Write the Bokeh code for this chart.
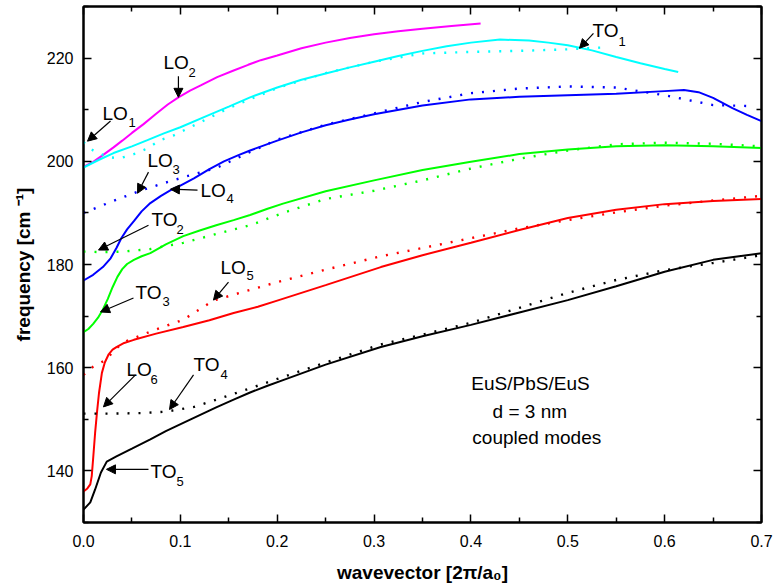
from bokeh.plotting import figure
from bokeh.models import (Range1d, LinearAxis, FixedTicker, Arrow, NormalHead,
                          Label, NumeralTickFormatter)
from bokeh.embed import file_html
from bokeh.resources import INLINE

# ---------------- data ----------------
x_ticks = [0.0, 0.1, 0.2, 0.3, 0.4, 0.5, 0.6, 0.7]
x_minor = [0.05, 0.15, 0.25, 0.35, 0.45, 0.55, 0.65]
y_ticks = [140, 160, 180, 200, 220]
y_minor = [130, 150, 170, 190, 210, 230]

# LO2 (magenta, solid)
lo2_x = [0, 0.01, 0.02, 0.031, 0.04, 0.05, 0.062, 0.075, 0.087, 0.098, 0.11, 0.121, 0.138, 0.155, 0.17,
         0.183, 0.2, 0.225, 0.25, 0.275, 0.3, 0.325, 0.35, 0.38, 0.41]
lo2_y = [198.9, 199.9, 201.2, 202.7, 204.0, 205.5, 207.2, 209.2, 211.0, 212.4, 213.7, 214.7, 216.3, 217.6, 218.7,
         219.6, 220.5, 221.9, 223.0, 223.9, 224.6, 225.2, 225.7, 226.2, 226.7]

# TO1 (cyan, solid)
to1s_x = [0, 0.015, 0.031, 0.05, 0.066, 0.083, 0.1, 0.125, 0.15, 0.172, 0.2, 0.225, 0.25, 0.275, 0.3,
          0.325, 0.35, 0.375, 0.4, 0.43, 0.46, 0.48, 0.5, 0.525, 0.55, 0.575, 0.6, 0.614]
to1s_y = [198.8, 200.2, 201.6, 202.9, 204.1, 205.4, 206.6, 208.6, 210.6, 212.4, 214.3, 215.8, 217.0, 218.2, 219.3,
          220.4, 221.4, 222.3, 223.0, 223.6, 223.4, 223.0, 222.5, 221.5, 220.2, 219.0, 217.9, 217.3]
# cyan, dotted
to1d_x = [0, 0.01, 0.025, 0.038, 0.052, 0.066, 0.079, 0.093, 0.12, 0.15, 0.2, 0.25, 0.3, 0.35, 0.4, 0.45, 0.5, 0.54]
to1d_y = [203.7, 202.1, 200.8, 200.6, 201.4, 202.5, 204.1, 205.0, 207.5, 210.3, 214.2, 217.1, 219.3, 220.9, 221.2, 221.4, 221.7, 222.1]

# LO4 (blue, solid)
lo4_x = [0, 0.01, 0.02, 0.028, 0.034, 0.039, 0.045, 0.052, 0.06, 0.069, 0.08, 0.09, 0.1, 0.114, 0.13, 0.145,
         0.16, 0.172, 0.2, 0.225, 0.25, 0.275, 0.3, 0.35, 0.4, 0.45, 0.5, 0.55, 0.6, 0.62, 0.635, 0.65,
         0.67, 0.685, 0.7]
lo4_y = [176.9, 178.0, 179.5, 181.2, 183.2, 185.1, 186.8, 188.4, 190.3, 191.9, 193.3, 194.4, 195.3, 196.7, 198.5, 200.0,
         201.2, 202.1, 204.0, 205.6, 207.0, 208.1, 209.1, 210.8, 212.0, 212.5, 212.8, 213.1, 213.6, 213.8, 213.4, 212.3,
         210.3, 209.0, 207.8]
# LO3 (blue, dotted)
lo3_x = [0, 0.028, 0.057, 0.08, 0.103, 0.137, 0.172, 0.2, 0.25, 0.3, 0.35, 0.4, 0.45, 0.5, 0.55, 0.6, 0.65, 0.69]
lo3_y = [190.0, 192.1, 194.2, 195.6, 196.9, 198.7, 201.8, 204.2, 207.1, 209.3, 211.5, 213.2, 214.1, 214.5, 214.3, 212.8, 210.9, 210.7]

# TO3 (green, solid)
to3_x = [0, 0.005, 0.01, 0.015, 0.02, 0.025, 0.03, 0.035, 0.04, 0.045, 0.052, 0.06, 0.069, 0.085, 0.103,
         0.12, 0.137, 0.155, 0.172, 0.19, 0.206, 0.25, 0.3, 0.35, 0.4, 0.45, 0.5, 0.55, 0.6, 0.65, 0.7]
to3_y = [166.9, 167.5, 168.5, 169.7, 171.3, 173.3, 175.6, 177.6, 179.1, 180.1, 180.9, 181.6, 182.2, 183.9, 185.5,
         186.6, 187.6, 188.6, 189.6, 190.8, 191.8, 194.2, 196.3, 198.3, 199.9, 201.4, 202.3, 202.9, 203.1, 202.9, 202.6]
# TO2 (green, dotted)
to2_x = [0, 0.02, 0.04, 0.069, 0.103, 0.137, 0.172, 0.206, 0.25, 0.3, 0.35, 0.4, 0.45, 0.5, 0.55, 0.6, 0.65, 0.7]
to2_y = [182.5, 182.4, 182.5, 183.0, 184.2, 185.9, 187.6, 190.0, 192.7, 194.3, 196.3, 198.6, 200.5, 202.1, 203.3, 203.6, 203.4, 202.9]

# LO6 (red, solid)
lo6_x = [0, 0.004, 0.007, 0.0085, 0.01, 0.012, 0.014, 0.016, 0.019, 0.022, 0.026, 0.03, 0.034, 0.042, 0.052,
         0.075, 0.103, 0.13, 0.155, 0.18, 0.2, 0.25, 0.307, 0.35, 0.4, 0.45, 0.5, 0.55, 0.6, 0.65, 0.7]
lo6_y = [136.0, 136.6, 137.4, 139.0, 142.5, 147.4, 151.5, 155.1, 159.0, 161.0, 162.6, 163.5, 164.0, 164.8, 165.4,
         166.6, 167.9, 169.2, 170.6, 171.8, 173.0, 176.0, 179.5, 181.8, 184.2, 186.7, 189.0, 190.6, 191.7, 192.3, 192.7]
# LO5 (red, dotted)
lo5_x = [0, 0.01, 0.023, 0.034, 0.045, 0.069, 0.103, 0.134, 0.2, 0.25, 0.307, 0.35, 0.4, 0.45, 0.5, 0.55, 0.6, 0.65, 0.7]
lo5_y = [158.6, 160.2, 161.5, 163.8, 165.2, 167.0, 169.3, 173.0, 176.6, 179.0, 181.6, 183.2, 185.1, 187.0, 188.6, 190.1, 191.4, 192.4, 193.3]

# TO5 (black, solid)
to5_x = [0, 0.007, 0.012, 0.018, 0.024, 0.034, 0.05, 0.069, 0.085, 0.103, 0.12, 0.137, 0.155, 0.172, 0.19, 0.206,
         0.25, 0.307, 0.35, 0.4, 0.45, 0.5, 0.55, 0.6, 0.65, 0.7]
to5_y = [132.5, 133.9, 136.4, 139.7, 141.8, 142.8, 144.3, 146.1, 147.7, 149.3, 150.8, 152.3, 153.8, 155.2, 156.5, 157.6,
         160.6, 164.0, 166.1, 168.3, 170.7, 173.1, 175.8, 178.6, 180.9, 182.2]
# TO4 (black, dotted)
to4_x = [0, 0.03, 0.06, 0.086, 0.114, 0.137, 0.172, 0.206, 0.25, 0.307, 0.35, 0.4, 0.45, 0.5, 0.55, 0.6, 0.65, 0.7]
to4_y = [151.1, 151.1, 151.2, 151.5, 152.4, 153.8, 156.0, 158.2, 161.0, 164.5, 166.4, 168.7, 171.6, 174.5, 177.0, 178.9, 180.3, 181.8]

# mode labels: main text, subscript, text pos, subscript pos, arrow start, arrow end
label_main = ["LO", "LO", "LO", "LO", "TO", "TO", "LO", "LO", "TO", "TO", "TO"]
label_sub = ["1", "2", "3", "4", "2", "3", "5", "6", "4", "5", "1"]
label_xy = [(0.0196, 209.3), (0.0826, 219.2), (0.0661, 200.2), (0.1208, 194.4), (0.0702, 188.7),
            (0.0537, 174.5), (0.1414, 179.5), (0.0444, 159.6), (0.1136, 160.6), (0.0692, 139.8), (0.5255, 225.3)]
sub_xy = [(0.0465, 207.6), (0.1084, 217.2), (0.0919, 198.5), (0.1476, 192.7), (0.096, 186.7),
          (0.0816, 172.9), (0.1683, 177.8), (0.0692, 157.7), (0.1414, 158.6), (0.096, 137.9), (0.5523, 223.2)]
arrow_from = [(0.0279, 207.8), (0.098, 216.5), (0.0671, 197.9), (0.1177, 194.4), (0.0671, 187.6),
              (0.0516, 173.5), (0.1497, 176.6), (0.0537, 158.6), (0.1136, 158.6), (0.0671, 140.3), (0.5265, 224.8)]
arrow_to = [(0.0041, 203.9), (0.098, 212.4), (0.0558, 193.8), (0.0898, 194.6), (0.0155, 182.8),
            (0.0176, 170.8), (0.1342, 173.1), (0.0206, 152.4), (0.0888, 151.9), (0.0237, 140.3), (0.5121, 221.9)]

info_lines = ["EuS/PbS/EuS", "d = 3 nm", "coupled modes"]
info_xy = [(0.4615, 156.9), (0.4608, 151.5), (0.468, 146.4)]

FONT = "Liberation Sans"

p = figure(frame_width=678, frame_height=516,
           x_range=Range1d(0, 0.7), y_range=Range1d(130, 230),
           output_backend="svg", toolbar_location=None,
           min_border_left=83, min_border_right=14, min_border_top=6, min_border_bottom=0,
           background_fill_color="white", border_fill_color="white")
p.grid.visible = False
p.outline_line_color = "black"
p.outline_line_width = 2

xt = FixedTicker(ticks=x_ticks, minor_ticks=x_minor)
yt = FixedTicker(ticks=y_ticks, minor_ticks=y_minor)


def style_axis(ax, show_labels):
    ax.axis_line_width = 2
    ax.axis_line_color = "black"
    ax.major_tick_in = 8
    ax.major_tick_out = 0
    ax.minor_tick_in = 5
    ax.minor_tick_out = 0
    ax.major_tick_line_width = 1.5
    ax.minor_tick_line_width = 1.5
    ax.major_tick_line_color = "black"
    ax.minor_tick_line_color = "black"
    if show_labels:
        ax.major_label_text_font = FONT
        ax.major_label_text_font_size = "16px"
        ax.major_label_text_color = "black"
        ax.axis_label_text_font = FONT
        ax.axis_label_text_font_style = "bold"
        ax.axis_label_text_font_size = "19px"
        ax.axis_label_text_color = "black"
    else:
        ax.major_label_text_font_size = "1px"
        ax.major_label_text_color = None
        ax.major_label_standoff = 0


p.xaxis.ticker = xt
p.yaxis.ticker = yt
p.xaxis.formatter = NumeralTickFormatter(format="0.0")
style_axis(p.xaxis[0], True)
style_axis(p.yaxis[0], True)
p.xaxis.axis_label = "wavevector [2\u03c0/a\u2080]"
p.yaxis.axis_label = "frequency [cm \u207b\u00b9]"
p.xaxis.major_label_standoff = 12
p.xaxis.axis_label_standoff = 12
p.yaxis.major_label_standoff = 10
p.yaxis.axis_label_standoff = 10

top = LinearAxis(ticker=xt)
style_axis(top, False)
p.add_layout(top, "above")
right = LinearAxis(ticker=yt)
style_axis(right, False)
p.add_layout(right, "right")

LW = 2
DOT = "2 9"
DW = 2.4
p.line(lo2_x, lo2_y, line_color="#ff00ff", line_width=LW)
p.line(to1s_x, to1s_y, line_color="#00ffff", line_width=LW)
p.line(to1d_x, to1d_y, line_color="#00ffff", line_width=DW, line_dash=DOT)
p.line(lo4_x, lo4_y, line_color="#0000ff", line_width=LW)
p.line(lo3_x, lo3_y, line_color="#0000ff", line_width=DW, line_dash=DOT)
p.line(to3_x, to3_y, line_color="#00ff00", line_width=LW)
p.line(to2_x, to2_y, line_color="#00ff00", line_width=DW, line_dash=DOT)
p.line(lo6_x, lo6_y, line_color="#ff0000", line_width=LW)
p.line(lo5_x, lo5_y, line_color="#ff0000", line_width=DW, line_dash=DOT)
p.line(to5_x, to5_y, line_color="black", line_width=LW)
p.line(to4_x, to4_y, line_color="black", line_width=DW, line_dash=DOT)

for main, sub, (lx, ly), (sx, sy), (ax0, ay0), (ax1, ay1) in zip(
        label_main, label_sub, label_xy, sub_xy, arrow_from, arrow_to):
    p.add_layout(Label(x=lx, y=ly, text=main, text_font=FONT, text_font_size="19px",
                       text_baseline="middle", text_align="left", text_color="black"))
    p.add_layout(Label(x=sx, y=sy, text=sub, text_font=FONT, text_font_size="13px",
                       text_baseline="middle", text_align="left", text_color="black"))
    p.add_layout(Arrow(x_start=ax0, y_start=ay0, x_end=ax1, y_end=ay1, line_width=1.2,
                       line_color="black",
                       end=NormalHead(size=9, fill_color="black", line_color="black", line_width=1)))

for txt, (tx, ty) in zip(info_lines, info_xy):
    p.add_layout(Label(x=tx, y=ty, text=txt, text_font=FONT, text_font_size="19px",
                       text_baseline="middle", text_align="center", text_color="black"))

open("out.html", "w").write(file_html(p, INLINE))
